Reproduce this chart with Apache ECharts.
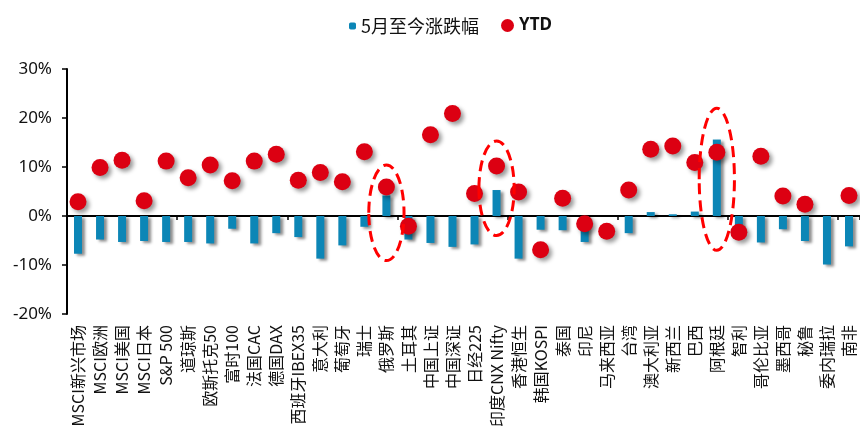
<!DOCTYPE html>
<html>
<head>
<meta charset="utf-8">
<script src="https://cdn.jsdelivr.net/npm/echarts@6/dist/echarts.min.js"></script>
<style>html,body{margin:0;padding:0;background:#fff;}#c{width:860px;height:437px;}</style>
</head>
<body>
<div id="c"></div>
<script>
var categories = ['MSCI新兴市场','MSCI欧洲','MSCI美国','MSCI日本','S&P 500','道琼斯','欧斯托克50','富时100','法国CAC','德国DAX','西班牙IBEX35','意大利','葡萄牙','瑞士','俄罗斯','土耳其','中国上证','中国深证','日经225','印度CNX Nifty','香港恒生','韩国KOSPI','泰国','印尼','马来西亚','台湾','澳大利亚','新西兰','巴西','阿根廷','智利','哥伦比亚','墨西哥','秘鲁','委内瑞拉','南非'];
var mayToDate = [-7.7,-4.8,-5.3,-5.1,-5.3,-5.3,-5.6,-2.6,-5.6,-3.5,-4.3,-8.7,-6.0,-2.2,4.2,-4.8,-5.5,-6.3,-5.8,5.3,-8.7,-2.8,-2.9,-5.3,0,-3.5,0.8,0.35,0.9,15.6,-3.0,-5.4,-2.7,-5.1,-9.9,-6.2];
var ytd = [2.9,9.9,11.4,3.1,11.2,7.8,10.4,7.2,11.2,12.6,7.3,8.9,7.0,13.1,5.9,-2.1,16.6,20.9,4.6,10.2,4.9,-6.9,3.6,-1.6,-3.1,5.3,13.6,14.3,10.9,13.0,-3.3,12.2,4.1,2.4,null,4.2];
var highlights = [['俄罗斯',-9.1,10.4],['印度CNX Nifty',-4.0,15.3],['阿根廷',-7.0,22.0]];
var yTicks = {min:-20, max:30, interval:10};
var seriesNames = ['5月至今涨跌幅','YTD'];

var chart = echarts.init(document.getElementById('c'), null, {renderer:'canvas'});
var latin = "'Noto Sans','Noto Sans CJK SC',sans-serif";
chart.setOption({
  animation:false,
  backgroundColor:'#fff',
  legend:[
    {data:[seriesNames[0]], left:344, top:12, itemWidth:7, itemHeight:7, itemGap:6,
     textStyle:{fontSize:18, color:'#111', fontFamily:"'Noto Sans CJK SC',sans-serif"}},
    {data:[seriesNames[1]], left:496, top:12, itemWidth:13, itemHeight:13, itemGap:4,
     textStyle:{fontSize:17, color:'#111', fontWeight:'bold', fontFamily:latin}}
  ],
  grid:{left:67, right:0, top:69, bottom:123, containLabel:false},
  xAxis:[
    {type:'category', data:categories, position:'bottom',
     axisLine:{onZero:true, lineStyle:{color:'#000', width:2}},
     axisTick:{show:true, length:4, lineStyle:{color:'#000', width:1.5}},
     axisLabel:{show:false}, splitLine:{show:false}},
    {type:'category', data:categories, position:'bottom',
     axisLine:{show:false, onZero:false}, axisTick:{show:false},
     axisLabel:{rotate:90, interval:0, margin:11, fontSize:16, color:'#111',
       fontFamily:"'Noto Sans CJK SC',sans-serif"}}
  ],
  yAxis:{type:'value', min:yTicks.min, max:yTicks.max, interval:yTicks.interval,
    axisLine:{show:true, lineStyle:{color:'#000', width:2}},
    axisTick:{show:true, length:5, lineStyle:{color:'#000', width:1.5}},
    splitLine:{show:false},
    axisLabel:{formatter:'{value}%', fontSize:17, color:'#111', margin:15, fontFamily:latin}},
  series:[
    {name:seriesNames[0], type:'bar', data:mayToDate, barWidth:8, xAxisIndex:0,
     itemStyle:{color:'#0c86b6', opacity:1, shadowColor:'rgba(0,0,0,0.45)', shadowOffsetX:3, shadowOffsetY:2, shadowBlur:3}, z:2},
    {name:seriesNames[1], type:'scatter', data:ytd, symbolSize:17, xAxisIndex:0,
     itemStyle:{color:'#dc0012', opacity:1, shadowColor:'rgba(0,0,0,0.4)', shadowOffsetX:3, shadowOffsetY:3, shadowBlur:4}, z:3},
    {type:'custom', xAxisIndex:0, data:highlights, z:4, silent:true,
     renderItem:function(params, api){
       var top = api.coord([api.value(0), api.value(2)]);
       var bot = api.coord([api.value(0), api.value(1)]);
       var w = api.size([1,0])[0];
       return {type:'ellipse',
         shape:{cx:top[0], cy:(top[1]+bot[1])/2, rx:w*0.8, ry:(bot[1]-top[1])/2},
         style:{fill:null, stroke:'#ff0000', lineWidth:3, lineDash:[11,6]}};
     }}
  ]
});
</script>
</body>
</html>
